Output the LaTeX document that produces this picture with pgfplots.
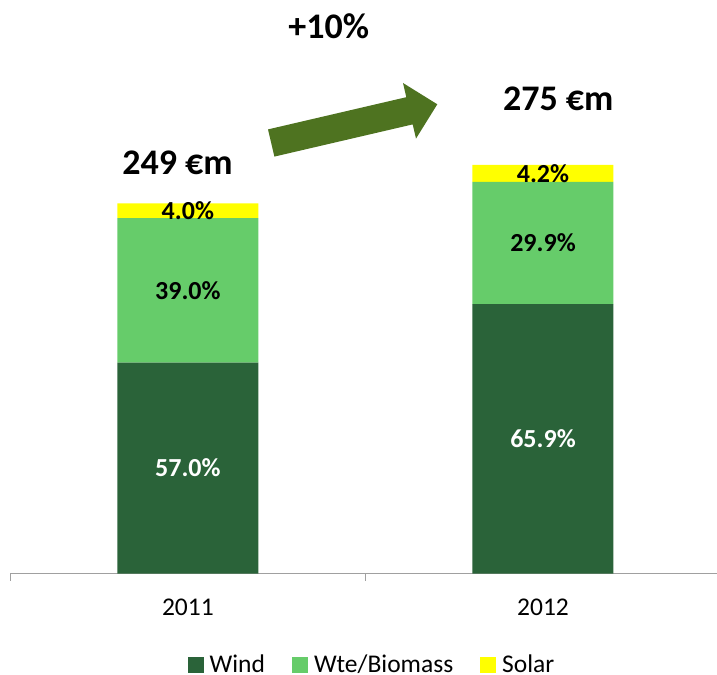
\documentclass[border=0pt]{standalone}
\usepackage{fontspec}
\setmainfont{Carlito}
\usepackage{pgfplots}
\pgfplotsset{compat=1.18}
\definecolor{wind}{RGB}{42,99,57}
\definecolor{wte}{RGB}{102,204,106}
\definecolor{solar}{RGB}{255,255,0}
\definecolor{arrowgreen}{RGB}{78,115,32}
\definecolor{axisgray}{RGB}{160,160,160}
\begin{document}
\begin{tikzpicture}
\useasboundingbox (-10.3bp,-101.5bp) rectangle (706.7bp,573.5bp);
\begin{axis}[
  scale only axis, width=706.7bp, height=573.5bp,
  xmin=-0.5, xmax=1.49, ymin=0, ymax=385.9,
  ybar stacked, bar width=141bp,
  axis y line=none, axis x line*=bottom,
  x axis line style={draw=axisgray, line width=1.2bp},
  xtick={0,1}, xticklabels={2011,2012},
  major tick length=0pt,
  minor xtick={-0.5,0.5},
  minor tick length=7bp,
  tick align=outside,
  tick style={draw=axisgray, line width=1.2bp},
  xticklabel style={font=\fontsize{25.5bp}{30bp}\selectfont, anchor=center, yshift=-33.5bp},
  /pgf/number format/assume math mode=true,
  clip=false,
  legend style={at={(axis description cs:0.5104,-0.1587)}, anchor=center, draw=none, fill=none, inner sep=0pt,
    legend columns=-1, font=\fontsize{25.5bp}{30bp}\selectfont, nodes={inner sep=0pt, text height=17.5bp, text depth=1.5bp},
    /tikz/every odd column/.style={column sep=6bp}, /tikz/every even column/.style={column sep=27bp}},
  legend image code/.code={\fill[#1] (0bp,-8bp) rectangle (16bp,8bp);},
]
\addplot[fill=wind, draw=none] coordinates {(0,141.93) (1,181.23)};
\addplot[fill=wte, draw=none] coordinates {(0,97.11) (1,82.23)};
\addplot[fill=solar, draw=none] coordinates {(0,9.96) (1,11.55)};
\legend{Wind, Wte/Biomass, Solar}
\coordinate (a1) at (axis cs:0,70.97);
\coordinate (a2) at (axis cs:0,190.53);
\coordinate (a3) at (axis cs:0,244.02);
\coordinate (b1) at (axis cs:1,90.61);
\coordinate (b2) at (axis cs:1,222.34);
\coordinate (b3) at (axis cs:1,269.2);
\end{axis}
\begin{scope}[every node/.style={font=\fontsize{26bp}{30bp}\selectfont\bfseries}]
\node[text=white] at (a1) {57.0\%};
\node at (a2) {39.0\%};
\node at (a3) {4.0\%};
\node[text=white] at (b1) {65.9\%};
\node at (b2) {29.9\%};
\node at (b3) {4.2\%};
\end{scope}
\fill[arrowgreen] (257.7bp,444.1bp) -- (396.0bp,476.3bp) -- (392.7bp,490.5bp) -- (427.0bp,469.2bp) -- (405.7bp,434.9bp) -- (402.4bp,449.1bp) -- (264.1bp,416.9bp) -- cycle;
\node[font=\fontsize{36bp}{40bp}\selectfont\bfseries] at (318.5bp,546.8bp) {+10\%};
\node[font=\fontsize{36bp}{40bp}\selectfont\bfseries] at (167.2bp,411.0bp) {249 €m};
\node[font=\fontsize{36bp}{40bp}\selectfont\bfseries] at (548.0bp,474.3bp) {275 €m};
\end{tikzpicture}
\end{document}
